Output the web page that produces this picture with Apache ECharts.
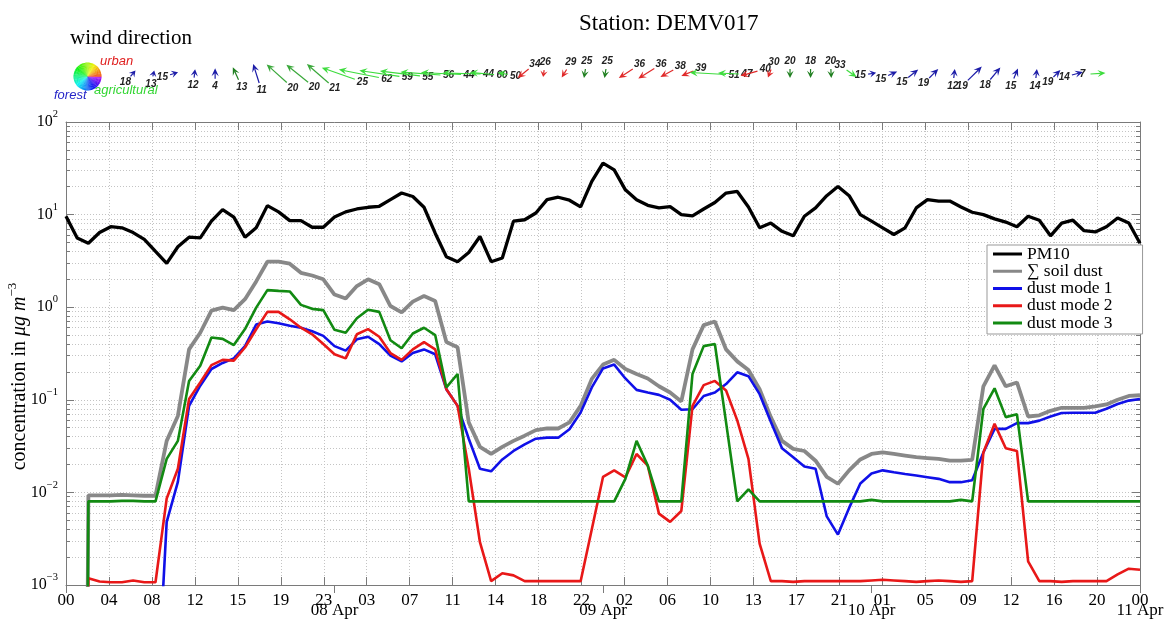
<!DOCTYPE html>
<html><head><meta charset="utf-8">
<script src="https://cdn.jsdelivr.net/npm/echarts@6/dist/echarts.min.js"></script>
<style>html,body{margin:0;padding:0;background:#fff}#c{width:1170px;height:619px}</style>
</head><body><div id="c"></div>
<script>
// ---------- data ----------
const hours = [0,1,2,3,4,5,6,7,8,9,10,11,12,13,14,15,16,17,18,19,20,21,22,23,24,25,26,27,28,29,30,31,32,33,34,35,36,37,38,39,40,41,42,43,44,45,46,47,48,49,50,51,52,53,54,55,56,57,58,59,60,61,62,63,64,65,66,67,68,69,70,71,72,73,74,75,76,77,78,79,80,81,82,83,84,85,86,87,88,89,90,91,92,93,94,95,96];

const pm10 = [9.6,5.6,4.9,6.4,7.4,7.2,6.4,5.4,4.0,2.97,
  4.5,5.7,5.6,8.5,11.3,9.4,5.7,7.2,12.5,10.7,
  8.6,8.6,7.3,7.3,9.4,10.7,11.5,12.0,12.3,14.5,
  17.1,15.7,12.0,6.3,3.5,3.1,3.9,5.8,3.1,3.4,
  8.5,8.8,10.4,14.5,15.4,14.3,12.1,22.8,35.9,30.4,
  18.5,14.5,12.6,11.8,12.2,10.0,9.7,11.5,13.5,17.1,
  17.8,12.1,7.2,8.1,6.6,5.9,9.6,11.8,16.0,20.1,
  16.0,10.0,8.5,7.2,6.1,7.2,11.8,14.5,14.0,14.0,
  12.1,10.6,10.0,9.0,8.3,7.4,9.6,8.7,5.9,8.1,
  8.7,6.7,6.5,7.4,9.2,8.1,4.9];

const soilDust = [1e-20,1e-20,0.0093,0.0093,0.0093,0.0094,0.0093,0.0092,0.0092,0.036,
  0.067,0.35,0.53,0.92,0.99,0.93,1.22,1.9,3.1,3.1,
  2.95,2.35,2.2,2.0,1.37,1.24,1.69,2.0,1.77,1.03,
  0.88,1.15,1.32,1.17,0.42,0.37,0.057,0.031,0.026,0.031,
  0.036,0.041,0.047,0.049,0.049,0.057,0.086,0.168,0.24,0.27,
  0.215,0.19,0.17,0.14,0.12,0.096,0.35,0.64,0.70,0.35,
  0.26,0.21,0.13,0.065,0.036,0.0295,0.028,0.022,0.0147,0.0124,
  0.0173,0.0227,0.026,0.027,0.026,0.025,0.024,0.0235,0.023,0.022,
  0.022,0.0225,0.14,0.236,0.14,0.154,0.066,0.068,0.076,0.082,
  0.082,0.082,0.085,0.089,0.10,0.11,0.112];

const dustMode1 = [null,null,null,null,null,null,null,null,2.6e-5,0.0048,
  0.013,0.086,0.142,0.215,0.25,0.28,0.38,0.65,0.70,0.67,
  0.63,0.60,0.55,0.49,0.38,0.34,0.45,0.48,0.40,0.30,
  0.26,0.32,0.35,0.31,0.13,0.086,0.038,0.018,0.0169,0.0227,
  0.028,0.033,0.038,0.039,0.039,0.048,0.073,0.136,0.218,0.24,
  0.17,0.128,0.12,0.113,0.10,0.078,0.079,0.11,0.12,0.148,
  0.198,0.18,0.115,0.058,0.030,0.024,0.019,0.018,0.0055,0.0035,
  0.0068,0.0125,0.016,0.0173,0.0165,0.0158,0.0152,0.0146,0.014,0.0129,
  0.0129,0.0135,0.027,0.0485,0.0485,0.056,0.056,0.0596,0.066,0.072,
  0.0725,0.0725,0.0725,0.080,0.090,0.098,0.102];

const dustMode2 = [1e-20,1e-20,0.00118,0.00109,0.00107,0.00107,0.00112,0.00107,0.00107,0.0086,
  0.018,0.102,0.154,0.237,0.27,0.265,0.367,0.578,0.89,0.89,
  0.74,0.60,0.51,0.40,0.31,0.28,0.51,0.58,0.48,0.32,
  0.27,0.35,0.42,0.35,0.13,0.086,0.018,0.0029,0.0011,0.00134,
  0.00127,0.0011,0.0011,0.0011,0.0011,0.0011,0.0011,0.004,0.0147,0.0173,
  0.0145,0.026,0.0195,0.0059,0.0048,0.0063,0.086,0.144,0.16,0.126,
  0.06,0.023,0.0028,0.0011,0.0011,0.00108,0.0011,0.0011,0.0011,0.0011,
  0.0011,0.0011,0.00112,0.00114,0.00112,0.0011,0.00108,0.0011,0.00112,0.0011,
  0.00108,0.0011,0.027,0.055,0.030,0.028,0.0018,0.0011,0.0011,0.00108,
  0.0011,0.0011,0.0011,0.0011,0.0013,0.0015,0.00146];

const dustMode3 = [1e-20,1e-20,0.0080,0.0080,0.0080,0.0081,0.0081,0.0080,0.0080,0.023,
  0.036,0.16,0.233,0.47,0.455,0.39,0.58,0.99,1.53,1.5,
  1.48,1.06,0.96,0.93,0.57,0.53,0.76,0.94,0.89,0.44,
  0.36,0.52,0.60,0.50,0.136,0.19,0.008,0.008,0.008,0.008,
  0.008,0.008,0.008,0.008,0.008,0.008,0.008,0.008,0.008,0.008,
  0.014,0.036,0.0195,0.008,0.008,0.008,0.19,0.38,0.40,0.057,
  0.008,0.0108,0.008,0.008,0.008,0.008,0.008,0.008,0.008,0.008,
  0.008,0.008,0.0083,0.008,0.008,0.008,0.008,0.008,0.008,0.008,
  0.0083,0.008,0.08,0.133,0.065,0.070,0.008,0.008,0.008,0.008,
  0.008,0.008,0.008,0.008,0.008,0.008,0.008];

const hourTickLabels = ['00','04','08','12','15','19','23','03','07','11','14','18','22','02','06','10','13','17','21','01','05','09','12','16','20','00'];
const dateTickLabels = ['','08 Apr','09 Apr','10 Apr','11 Apr'];
const seriesNames = ['PM10','\u2211 soil dust','dust mode 1','dust mode 2','dust mode 3'];

// wind panel (one arrow every slot; vector in slot units, label = wind speed)
const windSpeed = [18,13,15,12,4,13,11,20,20,21,25,62,59,55,56,44,44,60,50,34,26,29,25,25,36,36,38,39,51,47,40,30,20,18,20,33,15,15,15,19,12,19,18,15,14,19,14,7];
const windU = [0.24,0.07,0.39,0.05,0,-0.28,-0.29,-0.98,-1.06,-1.06,-1.61,-1.95,-1.95,-1.95,-1.95,-1.95,-1.85,-1.17,-0.49,-0.54,-0.05,-0.24,-0.07,-0.07,-0.68,-0.78,-0.63,-0.59,-1.76,-1.02,-0.83,-0.15,0,0,0.02,0.49,0.39,0.44,0.49,0.44,0.05,0.68,0.49,0.20,0.05,0.34,0.54,0.73];
const windV = [0.29,0.29,0.12,0.41,0.51,0.62,0.93,0.89,0.86,0.93,0.57,0.39,0.29,0.24,0.15,0.10,0.05,0.10,0.10,-0.44,-0.34,-0.39,-0.44,-0.44,-0.44,-0.49,-0.34,-0.24,0.10,0.05,-0.23,-0.39,-0.44,-0.44,-0.44,-0.34,0.07,0.20,0.39,0.44,0.44,0.68,0.59,0.49,0.44,0.34,0.15,0.05];
const windSector = ['f','f','f','f','f','n','f','m','m','m','a','a','a','a','a','a','a','a','a','u','u','u','n','n','u','u','u','u','a','a','u','u','n','n','n','a','f','f','f','f','f','f','f','f','f','f','f','a'];

// ---------- styles ----------
const serif = '"Liberation Serif","Times New Roman",serif';
const sans = '"Liberation Sans",Arial,sans-serif';
const frame = '#7a7a7a';
const gridDots = {show:true, lineStyle:{color:'#c4c4c4', width:1, type:[1,2]}};
const sectorColors = {f:'#1c1ca8', n:'#1f7f1f', m:'#3aa83a', a:'#3ddc3d', u:'#e02828'};
const lineColors = ['#000000','#888888','#1010e8','#e81818','#128a12'];
const lineWidths = [3.3,3.8,2.6,2.6,2.6];
const xStep = 96/25;

function pairs(arr){ return hours.map((h,i)=> [h, arr[i] == null ? '-' : arr[i]]); }
function expLabel(v){
  const e = Math.round(Math.log10(v));
  return '{b|10}{s|' + (e < 0 ? '\u2212' + (-e) : e) + '}';
}
const tickRich = {
  b:{fontFamily:serif, fontSize:16, color:'#000', lineHeight:26, verticalAlign:'middle'},
  s:{fontFamily:serif, fontSize:10.5, color:'#000', lineHeight:12, verticalAlign:'top'}
};

function renderWind(params, api){
  const i = api.value(0), u = api.value(1), v = api.value(2);
  const tail = api.coord([i - u/2, -v/2]);
  const head = api.coord([i + u/2, v/2]);
  const dx = head[0]-tail[0], dy = head[1]-tail[1];
  const len = Math.hypot(dx, dy) || 1;
  const ux = dx/len, uy = dy/len, nx = -uy, ny = ux;
  const hl = Math.min(8, Math.max(6, len*0.8)), hw = 3.6;
  const bx = head[0]-ux*hl, by = head[1]-uy*hl;
  const mx = head[0]-ux*hl*0.6, my = head[1]-uy*hl*0.6;
  const col = sectorColors[windSector[params.dataIndex]];
  return {type:'group', children:[
    {type:'line', shape:{x1:tail[0], y1:tail[1], x2:mx, y2:my}, style:{stroke:col, lineWidth:1.2}},
    {type:'polygon', shape:{points:[head,[bx+nx*hw,by+ny*hw],[mx,my],[bx-nx*hw,by-ny*hw]]}, style:{fill:col}},
    {type:'text', x:tail[0]-ux*8, y:tail[1]-uy*8,
      style:{text:String(windSpeed[params.dataIndex]), fill:'#222', fontSize:10, fontStyle:'italic', fontWeight:'bold', fontFamily:sans, align:'center', verticalAlign:'middle'}}
  ]};
}

// colour wheel legend for the wind panel
const wheel = [];
const WN = 72;
for (let k = 0; k < WN; k++){
  const a0 = k/WN*2*Math.PI, a1 = (k+1.15)/WN*2*Math.PI;
  const theta = 360 - (k+0.5)/WN*360;
  const hue = (theta*0.75 + 15) % 360;
  wheel.push({type:'sector', shape:{cx:87.5, cy:76.5, r:14, startAngle:a0, endAngle:a1}, style:{fill:'hsl('+hue.toFixed(0)+',90%,50%)'}, silent:true});
}

const lineSeries = [pm10, soilDust, dustMode1, dustMode2, dustMode3].map((arr, k)=>({
  type:'line', name:seriesNames[k], xAxisIndex:0, yAxisIndex:0,
  data:pairs(arr), showSymbol:false, symbol:'none', clip:true,
  lineStyle:{color:lineColors[k], width:lineWidths[k]}, itemStyle:{color:lineColors[k]},
  z:3+k
}));

const chart = echarts.init(document.getElementById('c'), null, {renderer:'canvas'});
chart.setOption({
  animation:false,
  backgroundColor:'#fff',
  title:{text:'Station: DEMV017', left:574, top:7, textStyle:{fontFamily:serif, fontSize:23, fontWeight:'normal', color:'#000'}},
  grid:[
    {left:66, right:30, top:122, bottom:34, show:false, outerBoundsMode:'none', containLabel:false},
    {left:133, width:965, top:43, height:61, show:false, outerBoundsMode:'none', containLabel:false}
  ],
  legend:{
    orient:'vertical', left:987, top:245, icon:'rect', itemWidth:29, itemHeight:3, itemGap:-0.75,
    padding:[0,30,2,6], backgroundColor:'#fff', borderColor:'#999', borderWidth:1,
    textStyle:{fontFamily:serif, fontSize:17.5, color:'#000'},
    data:seriesNames
  },
  xAxis:[
    {type:'value', gridIndex:0, min:0, max:96, interval:xStep,
      axisLine:{show:true, onZero:false, lineStyle:{color:frame}},
      axisTick:{show:true, inside:true, length:8, lineStyle:{color:frame}},
      axisLabel:{margin:7, fontFamily:serif, fontSize:17, color:'#000', showMinLabel:true, showMaxLabel:true,
        formatter:v=> hourTickLabels[Math.round(v/xStep)] || ''},
      splitLine:gridDots},
    {type:'value', gridIndex:0, position:'top', min:0, max:96, interval:xStep,
      axisLine:{show:true, onZero:false, lineStyle:{color:frame}},
      axisTick:{show:true, inside:true, length:8, lineStyle:{color:frame}},
      axisLabel:{show:false}, splitLine:{show:false}},
    {type:'value', gridIndex:0, position:'bottom', min:0, max:96, interval:24,
      axisLine:{show:false},
      axisTick:{show:true, inside:false, length:8, lineStyle:{color:frame}},
      axisLabel:{margin:17, fontFamily:serif, fontSize:17, color:'#000', showMinLabel:true, showMaxLabel:true,
        formatter:v=> dateTickLabels[Math.round(v/24)] || ''},
      splitLine:{show:false}},
    {type:'value', gridIndex:1, min:0, max:47, show:false}
  ],
  yAxis:[
    {type:'log', gridIndex:0, logBase:10, min:0.001, max:100,
      axisLine:{show:true, onZero:false, lineStyle:{color:frame}},
      axisTick:{show:true, inside:true, length:8, lineStyle:{color:frame}},
      minorTick:{show:true, splitNumber:9, length:4, lineStyle:{color:frame}},
      splitLine:gridDots, minorSplitLine:gridDots,
      axisLabel:{margin:8, formatter:expLabel, rich:tickRich},
      name:'{a|concentration in }{i|\u03bcg m}{s|\u22123}', nameLocation:'middle', nameRotate:90, nameGap:32,
      nameMoveOverlap:false,
      nameTextStyle:{padding:[0,46,0,0], rich:{
        a:{fontFamily:serif, fontSize:20, color:'#000', lineHeight:28, verticalAlign:'middle'},
        i:{fontFamily:serif, fontSize:20, fontStyle:'italic', color:'#000', lineHeight:28, verticalAlign:'middle'},
        s:{fontFamily:serif, fontSize:13, color:'#000', lineHeight:13, verticalAlign:'top'}}}
    },
    {type:'log', gridIndex:0, logBase:10, min:0.001, max:100, position:'right',
      axisLine:{show:true, onZero:false, lineStyle:{color:frame}},
      axisTick:{show:true, inside:true, length:8, lineStyle:{color:frame}},
      minorTick:{show:true, splitNumber:9, length:4, lineStyle:{color:frame}},
      axisLabel:{show:false}, splitLine:{show:false}},
    {type:'value', gridIndex:1, min:-1.5, max:1.5, show:false}
  ],
  graphic:[
    {type:'text', left:70, top:28, style:{text:'wind direction', fontFamily:serif, fontSize:21, fill:'#000'}},
    {type:'group', children:wheel},
    {type:'text', left:100, top:55, style:{text:'urban', fontFamily:sans, fontStyle:'italic', fontSize:13, fill:'#e02020'}},
    {type:'text', left:54, top:89, style:{text:'forest', fontFamily:sans, fontStyle:'italic', fontSize:13, fill:'#2424c8'}},
    {type:'text', left:94, top:84, style:{text:'agricultural', fontFamily:sans, fontStyle:'italic', fontSize:13, fill:'#33d633'}}
  ],
  series: lineSeries.concat([{
    type:'custom', name:'wind', xAxisIndex:3, yAxisIndex:2, clip:false, silent:true,
    data: windU.map((u,i)=>[i, u, windV[i]]), renderItem:renderWind, z:10
  }])
});
</script>
</body></html>
